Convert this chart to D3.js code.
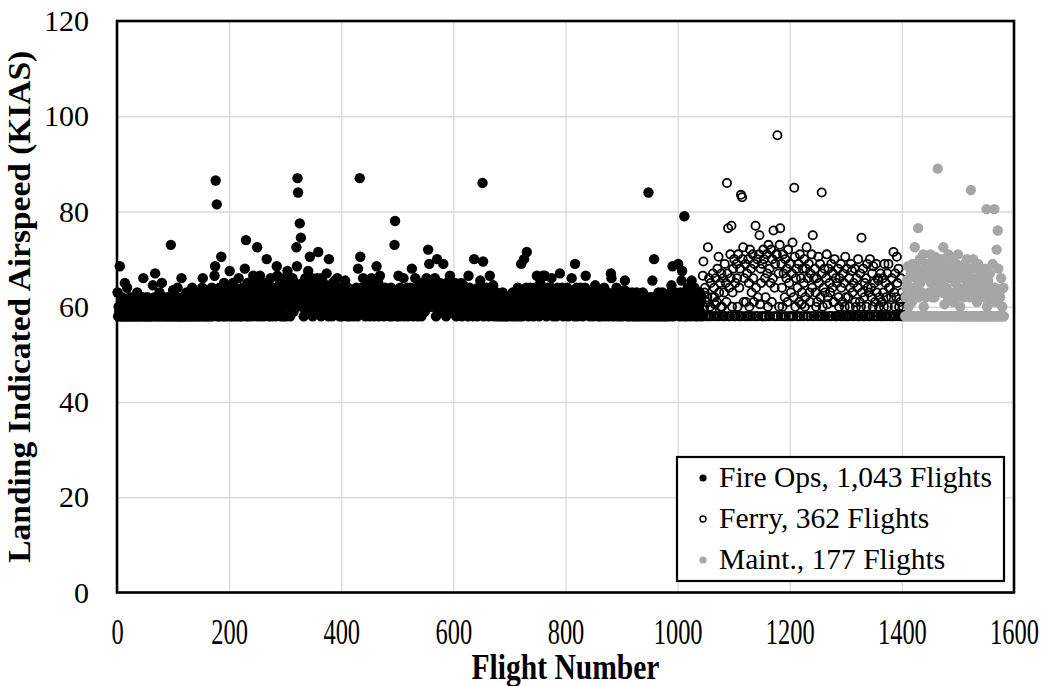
<!DOCTYPE html>
<html>
<head>
<meta charset="utf-8">
<script src="https://cdn.jsdelivr.net/npm/d3@7"></script>
<style>
  body { margin: 0; background: #fff; }
  text { font-family: "Liberation Serif", "Times New Roman", serif; fill: #000; }
</style>
</head>
<body>
<svg id="chart" width="1047" height="686"></svg>
<script>
// Landing indicated airspeed (KIAS) per flight, listed in flight order.
// Fire Ops: flights 1..1043
const fireOpsKias = [
  63,58,60,59,68.5,58,61,58,62,58,60,58,59,65,58,61,58,64,58,60,
  58,60,62,58,59,61,58,58,60,62,58,59,61,58,60,63,58,58,61,59,
  60,58,61,58,59,62,66,58,60,58,61,59,58,62,58,60,58,59,61,58,
  58,61,59,64.5,58,60,62,67,58,61,58,59,61.5,58,60,63,58,62,59,65,
  58,60,58,62,59,61,58,60,58,59,62,58,61,58,60,73,58,59,61,63.5,
  58,61,58,60,62,58,59,64,58,61,58,60,58,59,66,58,62,60,58,61,
  59,58,61,63,58,60,58,62,59,58,61,60,58,64,58,59,62,58,60,61,
  58,60,63,58,61,59,58,62.5,60,58,61,64,66,58,59,62,58,60,61,58,
  60,58,62,59,61,63.5,58,60,64,58,62,59,61,66.5,68.5,86.5,60,81.5,58,63,
  61,58,64,60,59,70.5,62,58,62,61,65,58,60,63,59,58,62,64,61,60,
  67.5,58,61,63,60,58,65,62,59,64,58,61,63,60,58,62,66,59,61,58,
  60,62,58,64,61,59,63,68,60,74,58,62,65,61,58,63,65,59,61,64,
  58,62,66.5,60,64,61,59,63,58,72.5,61,62,65,60,66.5,58,63,61,64,59,
  62,58,61,63.5,60,65,70,59,62,64,58,61,63,66,60,58,62,64,61,59,
  63,60,58,62,68.5,66.5,61,64,59,62,65,58,61,63,60,64,58,62,66,61,
  58,62,64,67.5,60,63,61,65,58,62,64,60,66,61,59,63,65,62,60,72.5,
  68.5,87,84,62,64,77.5,61,74.5,63,60,65,62,58,64,61,66,63,59,62,65,
  67.5,62,64,70.5,61,63,60,66,58,62,65,61,64,63,59,62,66,60,71.5,63,
  61,64,62,58,66,63,60,65,62,59,64,61,63,67,60,62,58,70,64,61,
  62,60,63,58,65,61,64,62,65.5,59,63,61,66,60,62,64,58,61,63,60,
  58,62,61,64,60,63,65.5,59,62,58,61,64,60,62,58,63,61,59,62,60,
  61,58,63,60,62,59,64,61,58,68,62,60,87,70.5,63,61,64,59,66,62,
  60,63,58,61,65,62,59,64,60,62,58,63,61,66,59,62,64,60,58,61,
  62,60,68.5,63,61,65,58,62,66.5,60,64,61,59,63,62,58,61,64,60,62,
  61,59,63,60,62,58,63,61,64,60,58,62,61,59,73,78,60,63,58,62,
  60,66.5,62,58,64,61,59,63,60,62,66,58,61,63,60,59,62,64,58,61,
  62,59,61,64,60,68,62,58,63,61,59,66,60,62,64,58,61,63,60,64,
  61,63,58,62,65,60,64,61,59,63,62,66,60,64,72,61,69,62,65,60,
  63,61,64,65.5,62,60,66,63,58,62,70,61,64,60,63,65,59,62,61,64,
  62,69,60,64,61,63,58,65,62,60,64,61,63,66.5,60,62,64,59,61,63,
  60,62,65,61,58,63,60,64,62,59,61,63,60,65,58,62,61,64.5,60,62,
  61,59,63,60,62,58,66.5,61,64,60,62,59,63,61,58,62,70,60,63,61,
  62,60,58,64,61,63,59,65.5,62,60,61,86,69.5,58,63,61,60,62,64,59,
  60,62,58,61,66.5,60,63,59,62,61,64.5,58,60,62,59,61,63,58,60,62,
  61,58,60,62,59,61,58,63,60,58,62,59,61,58,60,62,58,61,59,60,
  62,58,60,61,59,63,58,62,60,59,61,58,62,60,64,59,61,58,63,60,
  69,61,58,63,60,70,62,59,61,64,71.5,60,62,58,63,61,64,59,62,60,
  61,63,58,62,60,64,61,59,66.5,62,60,63,58,61,65,62,60,63,59,66.5,
  62,60,66.5,61,63,58,62,64,60,61,63,59,62,64,66,60,61,58,63,62,
  60,63,61,58,62,64,60,61,63,67,59,62,60,64,61,58,63,62,60,61,
  62,60,64,61,58,63,60,62,59,61,66,62,60,63,61,58,69,62,60,64,
  61,58,63,60,62,59,64,61,60,62,58,63,61,60,64,66.5,62,59,61,63,
  60,62,58,61,63,60,59,62,61,58,63,60,64.5,61,62,59,60,63,58,61,
  62,60,58,61,63,59,62,60,64,58,61,60,62,59,63,61,58,62,60,61,
  67,66,60,62,58,61,63,60,59,62,64,58,61,60,63,62,58,61,60,62,
  61,58,62,60,63.5,65.5,59,61,62,58,60,63,61,58,62,60,59,61,63,58,
  61.5,60,58,62,59,61,63,58,60,62,58,61,59,60,62,58,61,63,59,60,
  58,61,60,62,58,59,61,84,60,58,62,61,59,58,65.5,60,62,70,58,61,
  60,58,62,61,59,63,58,60,62,58,61,59,63,60,58,62,61,58,60,62,
  61,58,60,62,59,61,63,58,64.5,60,68.5,62,58,61,60,63,59,62,60,61,
  69,62,60,58,63,61,65.5,67.5,60,62,58,79,61,63,60,58,62,64,59,61,
  62,60,58,63,65.5,61,59,62,60,64,58,61,63,60,62,58,61,60,63,59,
  61,62,58
];
// Ferry: flights 1044..1405
const ferryKias = [
  58,66.5,69.5,60,63,64,58,61,58,62,72.5,58,66,58,60,65,58,59.5,62,67,
  58,64,62,60.5,66,58,61,68,58,70.5,63,58,65,60,67,60,58,66,58,63,
  69,58,65,61,86,67,76.5,58,64,58,71,66,77,60,63,68,58,70,58,65,
  58,69,66,60,71,58,64,68,58,83.5,58,83,70,72.5,61,66,58,69,61,58,
  67,58,70,65,60,72,58,68,63,58,71,66,61,69,58,77,64,58,70,62,
  58,71,75,60.5,68,65,58,69,58,72,70,58,66,62,58,71,67,60,73,58,
  68,58,65,72,61,70,66,76,58,64,69,58,71,71,96,58,67,60,73,76.5,
  58,69,64,60,71,67,58,62,70,58,66,68,61,72,58,65,69,58,63,58,
  67,73.5,58,62,85,70.5,60,66,68,58,64,58,69,61,71,58,66,60.5,63,68,
  58,65,70,60,62,68,72.5,58,66,58,69,63,61,67,58,71,64,75,58,66,
  58,68,63,60,66,61,58,70.5,65,58,69,62,58,84,67,60,64,58,68,63,
  58,66,71,60.5,62,68,58,65,63,58,69,58,64,67,61,61,70,58,66,58,
  65,58,68,62,60,66,58,69,64,58,61,67,58,65,60,70.5,62,58,68,58,
  62,58,66,60,64,69,58,67.5,63,58,65,58,68,61,60,66,58,64,70,58,
  58,61,67,60,74.5,63,58,68,58,62,65,58,66,60,69,64,58,63,58,70,
  58,64,62,67,60,68.5,58,65,61,58,69,63,58,66,65.5,60,62,58,67,58,
  61,58,66,63,60,69,58,65,62,58,67,60,69,64,58,64,58,62,66,58,
  58,71.5,63,60,67,58,62,70.5,65,58,68,60,58,61,66,58,63,58,60,58,
  58,62
];
// Maintenance: flights 1406..1582
const maintKias = [
  58,62,64,65.5,58,68.5,60,66,58,63,67,58,61,69,58,64,62,72.5,58,66,
  64,58,68,76.5,62,58,70,65,58,67,63,58,71,60,66,58,69,62,58,68,
  58,66.5,69,63,58,71,65,58,68,62,67,58,62,70.5,58,64,69,58,89,66,
  68,58,65,70,58,63,67,58,72.5,66,60.5,67.5,58,64,69,58,62,71,58,66,
  58,67,63,70,58,68,61,58,66,65,58,69,62,58,71,64,58,67,60,58,
  63,68.5,58,66,62,58,69,64,58,67,70,58,63,65,58,62,68,84.5,58,66,
  58,70,64,58,62,68,58,66,61,58,69,63,58,65,58,62,67,58,64,58,
  66,58,62,68,58,80.5,60,58,65.5,63,58,67,61,58,64,58,69,62,58,80.5,
  64,58,61,72,58,76,68,58,63,62,58,66,58,60,58,64,58
];
const seriesFirstFlight = [1, 1044, 1406];
const seriesLabels = ["Fire Ops, 1,043 Flights", "Ferry, 362 Flights", "Maint., 177 Flights"];
const xTickValues = [0, 200, 400, 600, 800, 1000, 1200, 1400, 1600];
const yTickValues = [0, 20, 40, 60, 80, 100, 120];

const svg = d3.select("#chart");
const plot = { left: 117, right: 1014, top: 21, bottom: 592.5 };

const x = d3.scaleLinear().domain([0, 1600]).range([plot.left, plot.right]);
const y = d3.scaleLinear().domain([0, 120]).range([plot.bottom, plot.top]);

// Gridlines
svg.append("g")
  .attr("transform", `translate(0,${plot.bottom})`)
  .call(d3.axisBottom(x).tickValues(xTickValues).tickSize(-(plot.bottom - plot.top)).tickFormat(""))
  .call(g => g.select(".domain").remove())
  .call(g => g.selectAll("line").attr("stroke", "#d9d9d9").attr("stroke-width", 1.3));
svg.append("g")
  .attr("transform", `translate(${plot.left},0)`)
  .call(d3.axisLeft(y).tickValues(yTickValues).tickSize(-(plot.right - plot.left)).tickFormat(""))
  .call(g => g.select(".domain").remove())
  .call(g => g.selectAll("line").attr("stroke", "#d9d9d9").attr("stroke-width", 1.3));

// Points
const toPoints = (arr, first) => arr.map((v, i) => ({ flight: first + i, kias: v }));
const fire = toPoints(fireOpsKias, seriesFirstFlight[0]);
const ferry = toPoints(ferryKias, seriesFirstFlight[1]);
const maint = toPoints(maintKias, seriesFirstFlight[2]);

svg.append("g").selectAll("circle").data(fire).join("circle")
  .attr("cx", d => x(d.flight)).attr("cy", d => y(d.kias))
  .attr("r", 5.2).attr("fill", "#000");
svg.append("g").selectAll("circle").data(ferry).join("circle")
  .attr("cx", d => x(d.flight)).attr("cy", d => y(d.kias))
  .attr("r", 4.1).attr("fill", "none").attr("stroke", "#000").attr("stroke-width", 1.8);
svg.append("g").selectAll("circle").data(maint).join("circle")
  .attr("cx", d => x(d.flight)).attr("cy", d => y(d.kias))
  .attr("r", 5.2).attr("fill", "#a6a6a6");

// Plot frame
svg.append("rect")
  .attr("x", plot.left).attr("y", plot.top)
  .attr("width", plot.right - plot.left).attr("height", plot.bottom - plot.top)
  .attr("fill", "none").attr("stroke", "#000").attr("stroke-width", 2.6);

// Axis labels
const yAxis = svg.append("g")
  .attr("transform", `translate(${plot.left},0)`)
  .call(d3.axisLeft(y).tickValues(yTickValues).tickSize(0).tickPadding(28));
yAxis.select(".domain").remove();
yAxis.selectAll("text")
  .style("font-family", '"Liberation Serif", serif')
  .style("font-size", "30px")
  .attr("fill", "#000");

const xAxis = svg.append("g")
  .attr("transform", `translate(0,${plot.bottom})`)
  .call(d3.axisBottom(x).tickValues(xTickValues).tickSize(0).tickFormat(d3.format("d")));
xAxis.select(".domain").remove();
xAxis.selectAll("text")
  .attr("y", 0).attr("dy", 0)
  .attr("transform", "translate(0,51) scale(0.68,1)")
  .style("font-family", '"Liberation Serif", serif')
  .style("font-size", "36px")
  .attr("fill", "#000");

// Axis titles
svg.append("text")
  .attr("transform", `translate(30,${(plot.top + plot.bottom) / 2}) rotate(-90)`)
  .attr("text-anchor", "middle")
  .attr("textLength", 512).attr("lengthAdjust", "spacingAndGlyphs")
  .style("font-weight", "bold").style("font-size", "31px")
  .text("Landing Indicated Airspeed (KIAS)");
svg.append("text")
  .attr("x", (plot.left + plot.right) / 2).attr("y", 679)
  .attr("text-anchor", "middle")
  .attr("textLength", 188).attr("lengthAdjust", "spacingAndGlyphs")
  .style("font-weight", "bold").style("font-size", "35px")
  .text("Flight Number");

// Legend
const legend = svg.append("g");
legend.append("rect")
  .attr("x", 677).attr("y", 457).attr("width", 327).attr("height", 124)
  .attr("fill", "#fff").attr("stroke", "#000").attr("stroke-width", 2.2);
const legendRows = [
  { label: seriesLabels[0], fill: "#000", stroke: "none", r: 3.6 },
  { label: seriesLabels[1], fill: "none", stroke: "#000", r: 3 },
  { label: seriesLabels[2], fill: "#a6a6a6", stroke: "none", r: 3.6 }
];
legendRows.forEach((d, i) => {
  const cy = 478 + i * 41;
  legend.append("circle").attr("cx", 703).attr("cy", cy).attr("r", d.r)
    .attr("fill", d.fill).attr("stroke", d.stroke).attr("stroke-width", 1.4);
  legend.append("text").attr("x", 719).attr("y", cy + 8.5)
    .style("font-size", "29.5px").text(d.label);
});
</script>
</body>
</html>
